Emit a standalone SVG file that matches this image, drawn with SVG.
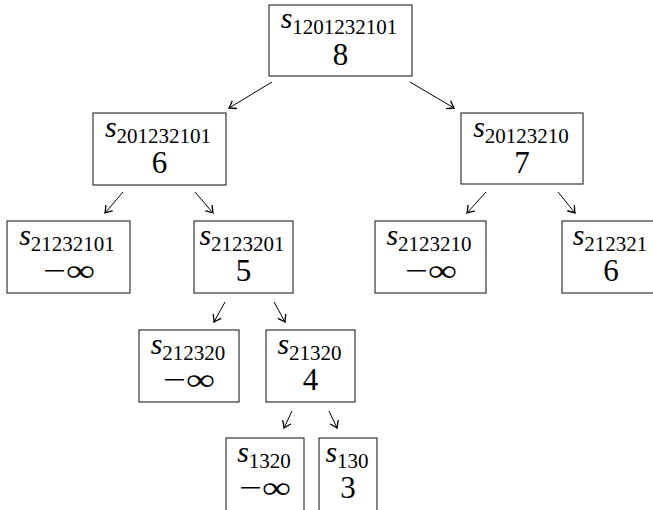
<svg xmlns="http://www.w3.org/2000/svg" width="653" height="510" viewBox="0 0 653 510">
<style>
.box{fill:#fff;stroke:#222;stroke-width:1.1}
.lbl{font-family:"Liberation Serif","DejaVu Serif",serif;font-size:30px;fill:#000;text-anchor:middle}
.s{font-style:italic}
.sub{font-size:21px}
.val{font-family:"Liberation Serif","DejaVu Serif",serif;font-size:31px;fill:#000;text-anchor:middle}
.edge{stroke:#000;stroke-width:1;fill:none;marker-end:url(#tip)}
</style>
<defs>
<marker id="tip" markerUnits="userSpaceOnUse" markerWidth="12" markerHeight="12" viewBox="-6 -5 8 10" refX="0" refY="0" orient="auto">
<path d="M-5.5,-3.8 Q-1.5,-0.8 0,0 Q-1.5,0.8 -5.5,3.8" fill="none" stroke="#000" stroke-width="1.1"/>
</marker>
</defs>
<rect width="653" height="510" fill="#fff"/>
<g id="connectors">
<line class="edge" x1="272" y1="82" x2="229" y2="108"/>
<line class="edge" x1="410" y1="82" x2="454" y2="108"/>
<line class="edge" x1="123" y1="192" x2="105" y2="213"/>
<line class="edge" x1="195" y1="192" x2="213" y2="213"/>
<line class="edge" x1="486" y1="192" x2="467" y2="213"/>
<line class="edge" x1="558" y1="192" x2="575" y2="213"/>
<line class="edge" x1="225" y1="302" x2="214" y2="322"/>
<line class="edge" x1="274" y1="302" x2="285" y2="322"/>
<line class="edge" x1="292" y1="411" x2="284" y2="428"/>
<line class="edge" x1="329" y1="411" x2="337" y2="428"/>
</g>
<g id="n_root">
<rect class="box" x="269" y="5" width="143" height="71"/>
<text class="lbl" x="339" y="28"><tspan class="s">s</tspan><tspan class="sub" dy="6">1201232101</tspan></text>
<text class="val" x="340.5" y="65">8</text>
</g>
<g id="n_201232101">
<rect class="box" x="93" y="113" width="133" height="72"/>
<text class="lbl" x="158" y="137"><tspan class="s">s</tspan><tspan class="sub" dy="6">201232101</tspan></text>
<text class="val" x="159.5" y="173">6</text>
</g>
<g id="n_20123210">
<rect class="box" x="461" y="113" width="122" height="71"/>
<text class="lbl" x="521" y="137"><tspan class="s">s</tspan><tspan class="sub" dy="6">20123210</tspan></text>
<text class="val" x="522" y="173">7</text>
</g>
<g id="n_21232101">
<rect class="box" x="7" y="221" width="123" height="72"/>
<text class="lbl" x="67" y="245"><tspan class="s">s</tspan><tspan class="sub" dy="6">21232101</tspan></text>
<text class="val" x="69" y="281" textLength="52" lengthAdjust="spacingAndGlyphs">−∞</text>
</g>
<g id="n_2123201">
<rect class="box" x="194" y="221" width="99" height="72"/>
<text class="lbl" x="242" y="245"><tspan class="s">s</tspan><tspan class="sub" dy="6">2123201</tspan></text>
<text class="val" x="243.5" y="281">5</text>
</g>
<g id="n_2123210">
<rect class="box" x="375" y="221" width="111" height="72"/>
<text class="lbl" x="429" y="245"><tspan class="s">s</tspan><tspan class="sub" dy="6">2123210</tspan></text>
<text class="val" x="431" y="281" textLength="52" lengthAdjust="spacingAndGlyphs">−∞</text>
</g>
<g id="n_212321">
<rect class="box" x="562" y="221" width="98" height="72"/>
<text class="lbl" x="610" y="245"><tspan class="s">s</tspan><tspan class="sub" dy="6">212321</tspan></text>
<text class="val" x="611" y="281">6</text>
</g>
<g id="n_212320">
<rect class="box" x="139" y="330" width="100" height="72"/>
<text class="lbl" x="188" y="354"><tspan class="s">s</tspan><tspan class="sub" dy="6">212320</tspan></text>
<text class="val" x="189" y="390" textLength="52" lengthAdjust="spacingAndGlyphs">−∞</text>
</g>
<g id="n_21320">
<rect class="box" x="266" y="330" width="89" height="72"/>
<text class="lbl" x="309.5" y="354"><tspan class="s">s</tspan><tspan class="sub" dy="6">21320</tspan></text>
<text class="val" x="310.5" y="390">4</text>
</g>
<g id="n_1320">
<rect class="box" x="226" y="438" width="78" height="80"/>
<text class="lbl" x="264" y="462"><tspan class="s">s</tspan><tspan class="sub" dy="6">1320</tspan></text>
<text class="val" x="265" y="498" textLength="52" lengthAdjust="spacingAndGlyphs">−∞</text>
</g>
<g id="n_130">
<rect class="box" x="319" y="438" width="58" height="80"/>
<text class="lbl" x="347" y="462"><tspan class="s">s</tspan><tspan class="sub" dy="6">130</tspan></text>
<text class="val" x="348" y="498">3</text>
</g>
</svg>
